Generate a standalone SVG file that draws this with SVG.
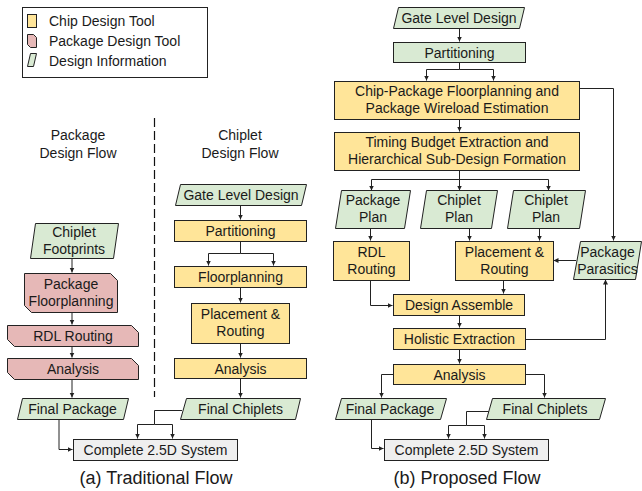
<svg xmlns="http://www.w3.org/2000/svg" width="642" height="491" viewBox="0 0 642 491">
<style>
.y{fill:#ffe599;stroke:#222;stroke-width:1}
.p{fill:#e6b8b7;stroke:#222;stroke-width:1}
.g{fill:#d9ead3;stroke:#222;stroke-width:1}
.w{fill:#efefef;stroke:#222;stroke-width:1}
text{font-family:"Liberation Sans",Arial,sans-serif;font-size:14px;fill:#1a1a1a;text-anchor:middle}
.l{text-anchor:start}
.cap{font-size:18px}
.c{fill:none;stroke:#222;stroke-width:1}
</style>
<defs>
<marker id="a" markerUnits="userSpaceOnUse" markerWidth="6" markerHeight="6" refX="5" refY="3" orient="auto">
<path d="M0,0.5 L5,3 L0,5.5 z" fill="#222"/>
</marker>
</defs>
<rect width="642" height="491" fill="#fff"/>

<g id="legend">
<rect x="22.5" y="7.5" width="185" height="70" fill="#fff" stroke="#222"/>
<rect class="y" x="27.5" y="14.5" width="9" height="13"/>
<path class="p" d="M27.5,34.5 H33.5 L36.5,37.5 V47.5 H30.5 L27.5,44.5 Z"/>
<path class="g" d="M30.5,53.5 H36.5 L33.5,66.5 H27.5 Z"/>
<text class="l" x="49" y="26">Chip Design Tool</text>
<text class="l" x="49" y="46">Package Design Tool</text>
<text class="l" x="49" y="65.5">Design Information</text>
</g>

<g id="titles">
<text x="78" y="140">Package</text>
<text x="78" y="158">Design Flow</text>
<text x="240" y="140">Chiplet</text>
<text x="240" y="158">Design Flow</text>
<line x1="154.5" y1="118" x2="154.5" y2="397" stroke="#111" stroke-width="1.2" stroke-dasharray="9,4"/>
</g>

<g id="connectors">
<path class="c" d="M72,258 V272.5" marker-end="url(#a)"/>
<path class="c" d="M72,312 V324.5" marker-end="url(#a)"/>
<path class="c" d="M72,346 V357.5" marker-end="url(#a)"/>
<path class="c" d="M72,379 V397.5" marker-end="url(#a)"/>
<path class="c" d="M59,419 V449.5 H72.5" marker-end="url(#a)"/>
<path class="c" d="M182,410.5 H154.5 V424.5 H137.5 V438.5" marker-end="url(#a)"/>
<path class="c" d="M154.5,424.5 H172.5 V438.5" marker-end="url(#a)"/>
<path class="c" d="M240.5,205 V219.5" marker-end="url(#a)"/>
<path class="c" d="M240.5,242 V253.5 H208.5 V265.5" marker-end="url(#a)"/>
<path class="c" d="M240.5,253.5 H273.5 V265.5" marker-end="url(#a)"/>
<path class="c" d="M240.5,287 V302.5" marker-end="url(#a)"/>
<path class="c" d="M240.5,343 V357.5" marker-end="url(#a)"/>
<path class="c" d="M240.5,378 V397.5" marker-end="url(#a)"/>

<path class="c" d="M459.5,28 V41.5" marker-end="url(#a)"/>
<path class="c" d="M459.5,63 V69.5 H426.5 V80.5" marker-end="url(#a)"/>
<path class="c" d="M459.5,69.5 H493.5 V80.5" marker-end="url(#a)"/>
<path class="c" d="M579,88.5 H613.5 V240.5" marker-end="url(#a)"/>
<path class="c" d="M459.5,119 V131.5" marker-end="url(#a)"/>
<path class="c" d="M459.5,170 V179.5 H371.5 V190.5" marker-end="url(#a)"/>
<path class="c" d="M459.5,179.5 V190.5" marker-end="url(#a)"/>
<path class="c" d="M459.5,179.5 H548.5 V190.5" marker-end="url(#a)"/>
<path class="c" d="M370.5,228 V240.5" marker-end="url(#a)"/>
<path class="c" d="M469.5,228 V240.5" marker-end="url(#a)"/>
<path class="c" d="M539.5,228 V240.5" marker-end="url(#a)"/>
<path class="c" d="M576,260.5 H553.5" marker-end="url(#a)"/>
<path class="c" d="M370.5,280 V305.5 H392.5" marker-end="url(#a)"/>
<path class="c" d="M503.5,280 V293.5" marker-end="url(#a)"/>
<path class="c" d="M459.5,315 V327.5" marker-end="url(#a)"/>
<path class="c" d="M525,339.5 H605.5 V279.5" marker-end="url(#a)"/>
<path class="c" d="M459.5,349 V363.5" marker-end="url(#a)"/>
<path class="c" d="M393,374.5 H381.5 V397.5" marker-end="url(#a)"/>
<path class="c" d="M525,374.5 H544.5 V397.5" marker-end="url(#a)"/>
<path class="c" d="M371.5,419 V448.5 H383.5" marker-end="url(#a)"/>
<path class="c" d="M489,411.5 H466.5 V425.5 H448.5 V438.5" marker-end="url(#a)"/>
<path class="c" d="M466.5,425.5 H484.5 V438.5" marker-end="url(#a)"/>
</g>

<g id="a_footprints">
<polygon class="g" points="35.5,223.5 118.5,223.5 113.5,258.5 30.5,258.5"/>
<text x="74" y="237">Chiplet</text>
<text x="74" y="254">Footprints</text>
</g>
<g id="a_pkgfloor">
<path class="p" d="M24.5,273.5 H110.5 L117.5,280.5 V312.5 H31.5 L24.5,305.5 Z"/>
<text x="71" y="289">Package</text>
<text x="71" y="306">Floorplanning</text>
</g>
<g id="a_rdl">
<path class="p" d="M7.5,325.5 H131.5 L138.5,332.5 V346.5 H14.5 L7.5,339.5 Z"/>
<text x="73" y="341">RDL Routing</text>
</g>
<g id="a_pkganalysis">
<path class="p" d="M7.5,358.5 H131.5 L138.5,365.5 V379.5 H14.5 L7.5,372.5 Z"/>
<text x="73" y="374">Analysis</text>
</g>
<g id="a_finalpkg">
<polygon class="g" points="22.5,398.5 128.5,398.5 123.5,419.5 17.5,419.5"/>
<text x="72.5" y="414">Final Package</text>
</g>
<g id="a_gate">
<polygon class="g" points="180.5,184.5 306.5,184.5 301.5,205.5 175.5,205.5"/>
<text x="241" y="200">Gate Level Design</text>
</g>
<g id="a_part">
<rect class="y" x="174.5" y="220.5" width="132" height="21"/>
<text x="240.5" y="236">Partitioning</text>
</g>
<g id="a_floor">
<rect class="y" x="174.5" y="266.5" width="132" height="21"/>
<text x="240.5" y="282">Floorplanning</text>
</g>
<g id="a_pr">
<rect class="y" x="191.5" y="303.5" width="98" height="40"/>
<text x="240.5" y="319">Placement &amp;</text>
<text x="240.5" y="336">Routing</text>
</g>
<g id="a_analysis">
<rect class="y" x="174.5" y="358.5" width="132" height="20"/>
<text x="240.5" y="373.5">Analysis</text>
</g>
<g id="a_finalchip">
<polygon class="g" points="186.5,398.5 300.5,398.5 295.5,419.5 180.5,419.5"/>
<text x="240.5" y="414">Final Chiplets</text>
</g>
<g id="a_complete">
<rect class="w" x="73.5" y="439.5" width="164" height="21"/>
<text x="155.5" y="455">Complete 2.5D System</text>
</g>
<text class="cap" x="156" y="484">(a) Traditional Flow</text>

<g id="b_gate">
<polygon class="g" points="398.5,7.5 524.5,7.5 519.5,28.5 393.5,28.5"/>
<text x="459" y="23">Gate Level Design</text>
</g>
<g id="b_part">
<rect class="g" x="393.5" y="42.5" width="132" height="20"/>
<text x="459.5" y="57.5">Partitioning</text>
</g>
<g id="b_cpfloor">
<rect class="y" x="334.5" y="81.5" width="245" height="38"/>
<text x="457" y="96">Chip-Package Floorplanning and</text>
<text x="457" y="113">Package Wireload Estimation</text>
</g>
<g id="b_timing">
<rect class="y" x="334.5" y="132.5" width="245" height="38"/>
<text x="457" y="147">Timing Budget Extraction and</text>
<text x="457" y="164">Hierarchical Sub-Design Formation</text>
</g>
<g id="b_pkgplan">
<polygon class="g" points="341.5,190.5 410.5,190.5 404.5,228.5 335.5,228.5"/>
<text x="373" y="205">Package</text>
<text x="373" y="222">Plan</text>
</g>
<g id="b_chipplan1">
<polygon class="g" points="426.5,190.5 497.5,190.5 491.5,228.5 420.5,228.5"/>
<text x="459" y="205">Chiplet</text>
<text x="459" y="222">Plan</text>
</g>
<g id="b_chipplan2">
<polygon class="g" points="513.5,190.5 585.5,190.5 579.5,228.5 507.5,228.5"/>
<text x="546" y="205">Chiplet</text>
<text x="546" y="222">Plan</text>
</g>
<g id="b_rdl">
<rect class="y" x="333.5" y="241.5" width="76" height="39"/>
<text x="371.5" y="257">RDL</text>
<text x="371.5" y="274">Routing</text>
</g>
<g id="b_pr">
<rect class="y" x="455.5" y="241.5" width="98" height="39"/>
<text x="504.5" y="257">Placement &amp;</text>
<text x="504.5" y="274">Routing</text>
</g>
<g id="b_parasitics">
<polygon class="g" points="580.5,241.5 641.5,241.5 635.5,279.5 573.5,279.5"/>
<text x="607.5" y="257">Package</text>
<text x="607.5" y="274">Parasitics</text>
</g>
<g id="b_assemble">
<rect class="y" x="393.5" y="294.5" width="131" height="21"/>
<text x="459" y="310">Design Assemble</text>
</g>
<g id="b_holistic">
<rect class="y" x="393.5" y="328.5" width="132" height="21"/>
<text x="459.5" y="344">Holistic Extraction</text>
</g>
<g id="b_analysis">
<rect class="y" x="393.5" y="364.5" width="132" height="20"/>
<text x="459.5" y="379.5">Analysis</text>
</g>
<g id="b_finalpkg">
<polygon class="g" points="341.5,398.5 446.5,398.5 440.5,419.5 335.5,419.5"/>
<text x="390" y="414">Final Package</text>
</g>
<g id="b_finalchip">
<polygon class="g" points="492.5,398.5 605.5,398.5 599.5,419.5 486.5,419.5"/>
<text x="545" y="414">Final Chiplets</text>
</g>
<g id="b_complete">
<rect class="w" x="384.5" y="439.5" width="164" height="21"/>
<text x="466.5" y="455">Complete 2.5D System</text>
</g>
<text class="cap" x="467" y="484">(b) Proposed Flow</text>
</svg>
